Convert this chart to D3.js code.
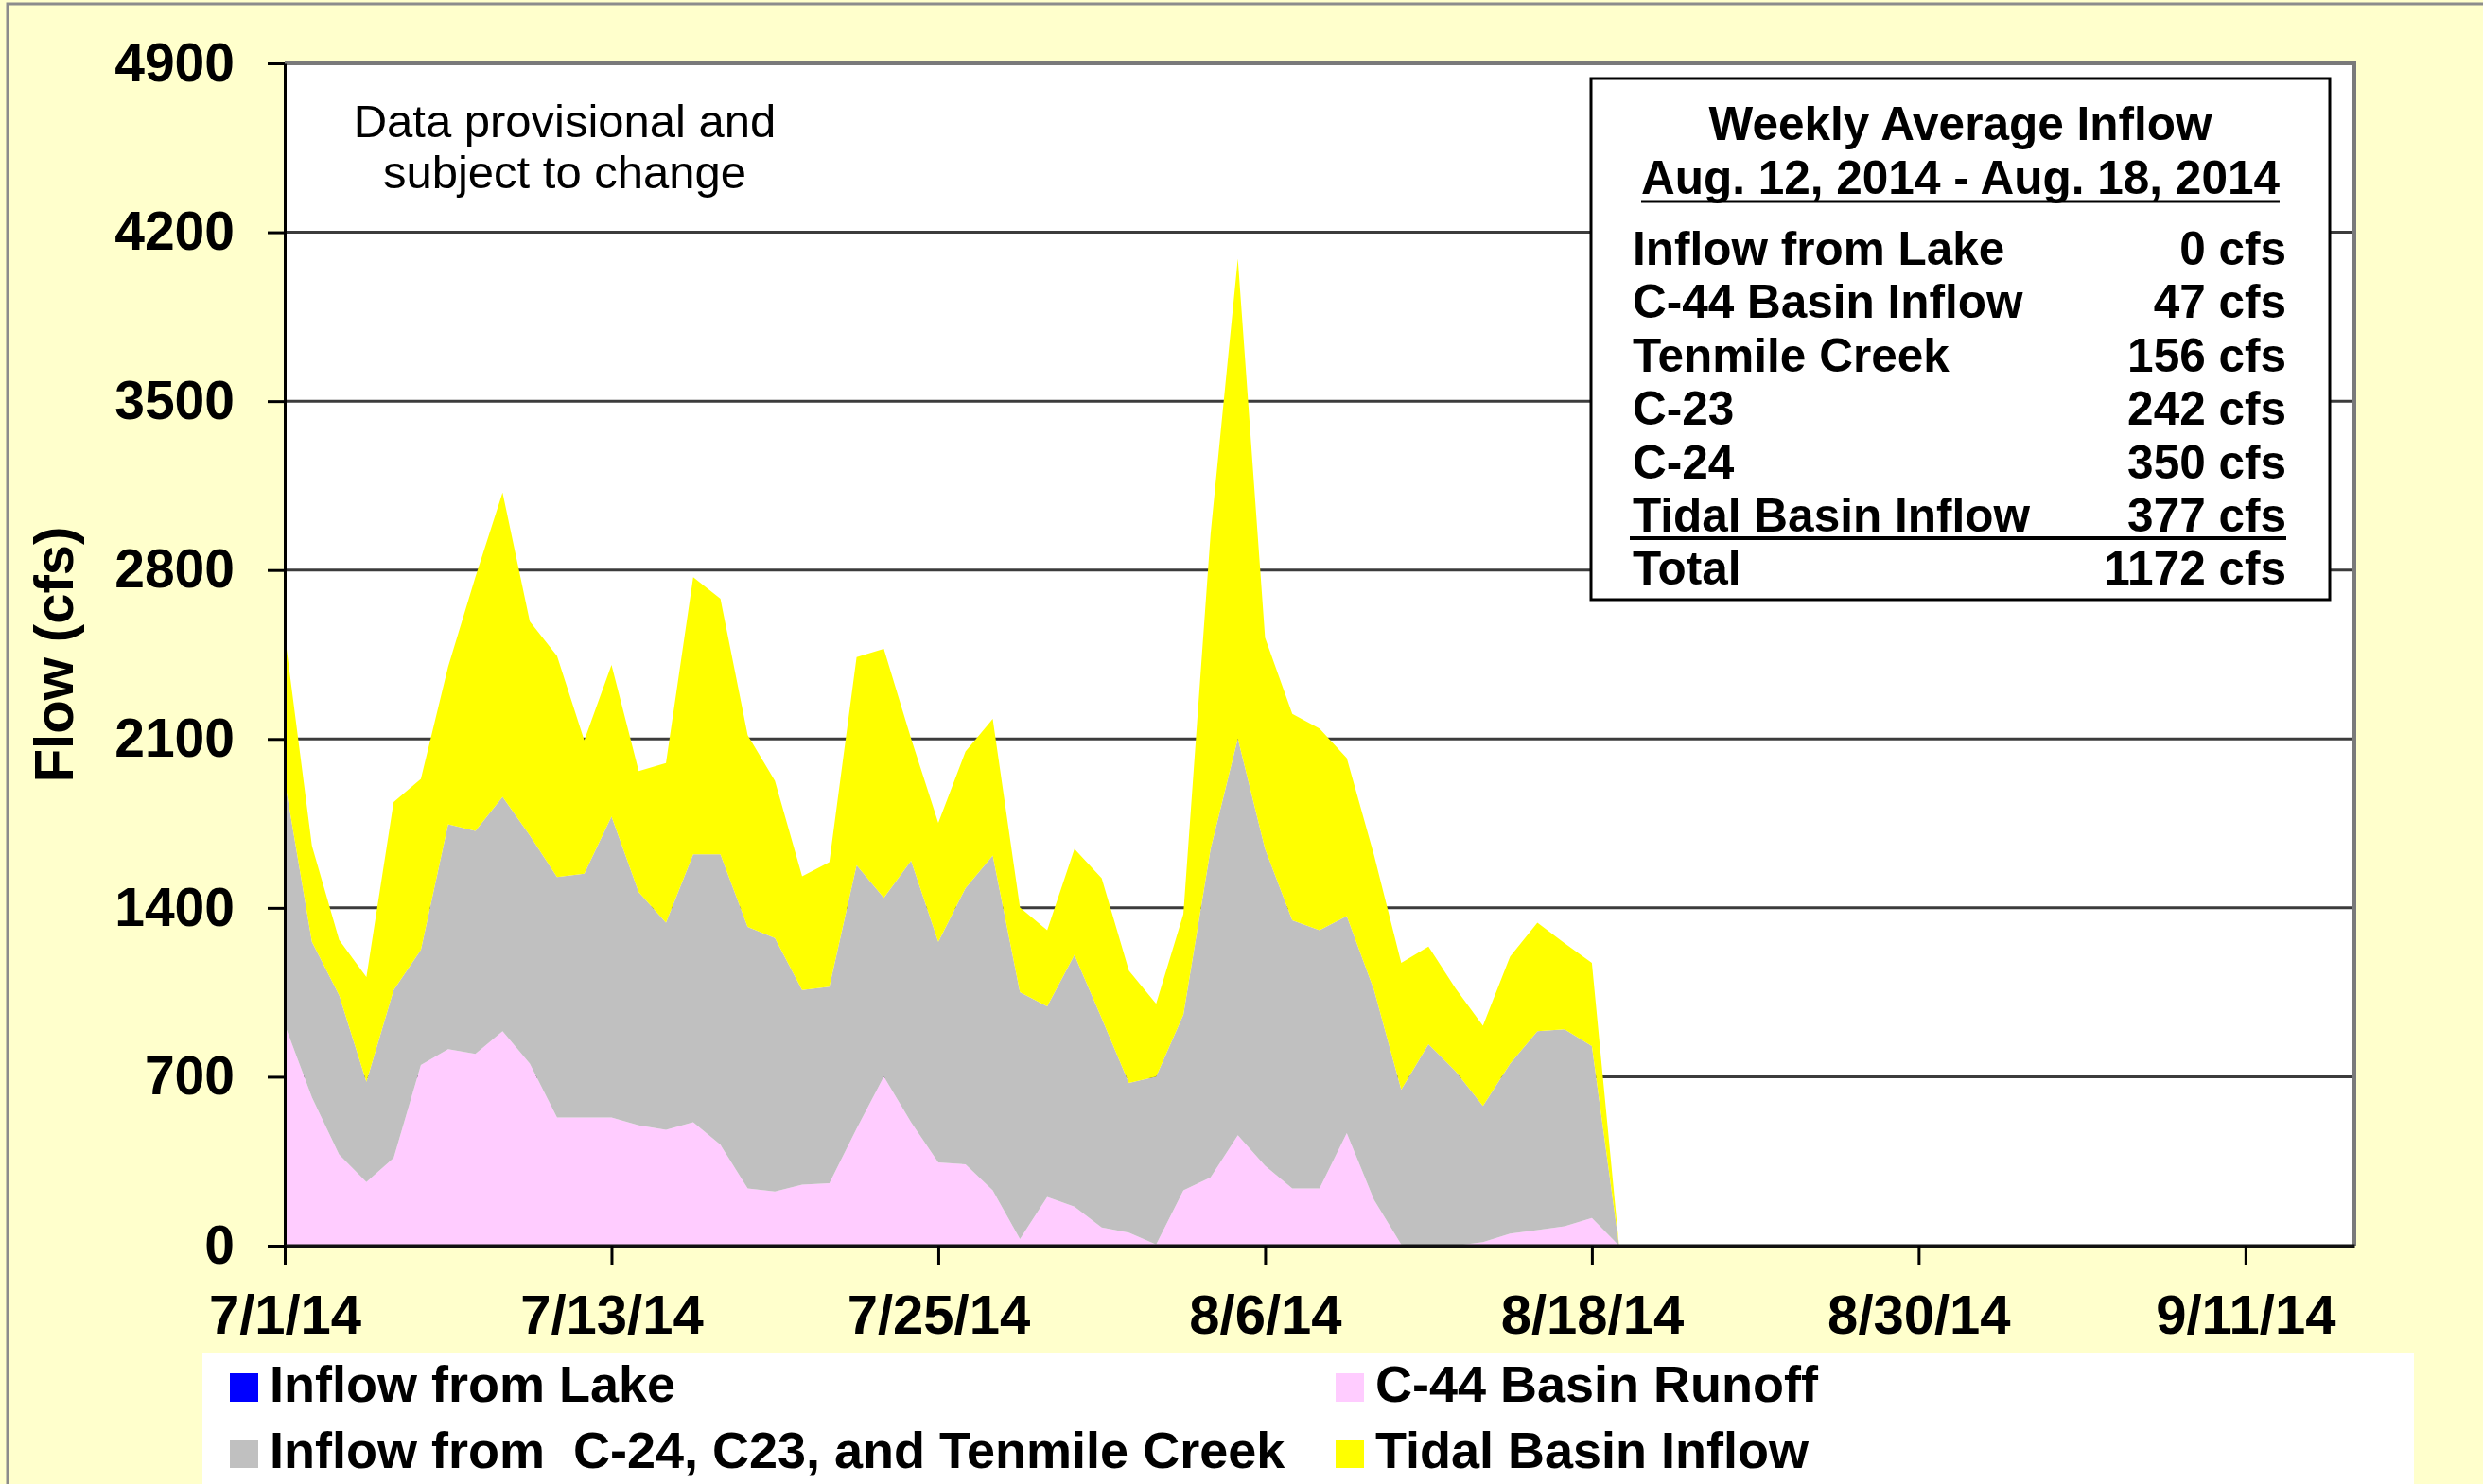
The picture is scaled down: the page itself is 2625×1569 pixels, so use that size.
<!DOCTYPE html>
<html>
	<head>
		<meta http-equiv="Content-Type" content="text/html;charset=utf-8"/>
		<title>Weekly Average Inflow</title>
		<script src="https://d3js.org/d3.v7.min.js"></script>
		<style type="text/css">

			body {
				margin: 0;
				background: #FFFFCC;
			}

			svg text {
				font-family: "Liberation Sans", Arial, sans-serif;
				font-weight: bold;
				fill: #000;
			}

			.grid line {
				stroke: #3c3c3c;
				stroke-width: 3;
			}

		</style>
	</head>
	<body>
		<script type="text/javascript">

			//Daily flows (cfs), 7/1/14 through 8/19/14
			var lake = [0, 0, 0, 0, 0, 0, 0, 0, 0, 0,
				0, 0, 0, 0, 0, 0, 0, 0, 0, 0,
				0, 0, 0, 0, 0, 0, 0, 0, 0, 0,
				0, 0, 0, 0, 0, 0, 0, 0, 0, 0,
				0, 0, 0, 0, 0, 0, 0, 0, 0, 0];
			var c44 = [916, 614, 377, 264, 364, 749, 814, 795, 889, 755,
				531, 531, 531, 499, 480, 512, 418, 237, 224, 253,
				259, 485, 701, 512, 345, 337, 229, 27, 202, 162,
				75, 54, 5, 229, 283, 458, 331, 237, 237, 466,
				190, 5, 0, 0, 15, 50, 65, 80, 115, 0];
			var basin = [1011, 645, 661, 415, 695, 477, 932, 924, 971, 945,
				997, 1011, 1248, 966, 859, 1110, 1204, 1084, 1051, 806,
				814, 1092, 741, 1083, 914, 1145, 1388, 1024, 790, 1043,
				868, 620, 696, 728, 1361, 1644, 1313, 1111, 1070, 900,
				870, 642, 835, 722, 564, 705, 824, 817, 712, 0];
			var tidal = [606, 398, 229, 434, 779, 709, 653, 1051, 1261, 887,
				916, 552, 628, 502, 661, 1148, 1059, 795, 652, 472,
				517, 862, 1032, 507, 493, 566, 566, 350, 315, 439,
				580, 466, 302, 417, 1307, 1989, 876, 856, 836, 655,
				559, 525, 405, 343, 332, 444, 450, 356, 345, 0];

			//Axis ticks
			var xTickLabels = ["7/1/14", "7/13/14", "7/25/14", "8/6/14", "8/18/14", "8/30/14", "9/11/14"];
			var yTicks = [0, 700, 1400, 2100, 2800, 3500, 4200, 4900];

			//Weekly summary box
			var boxTitle = "Weekly Average Inflow";
			var boxDates = "Aug. 12, 2014 - Aug. 18, 2014";
			var boxLabels = ["Inflow from Lake", "C-44 Basin Inflow", "Tenmile Creek", "C-23", "C-24", "Tidal Basin Inflow", "Total"];
			var boxValues = ["0 cfs", "47 cfs", "156 cfs", "242 cfs", "350 cfs", "377 cfs", "1172 cfs"];

			//Legend
			var legendNames = ["Inflow from Lake", "Inflow from  C-24, C23, and Tenmile Creek", "C-44 Basin Runoff", "Tidal Basin Inflow"];
			var legendColors = ["#0000FF", "#C0C0C0", "#FFCCFF", "#FFFF00"];

			var keys = ["lake", "c44", "basin", "tidal"];
			var colors = {lake: "#0000FF", c44: "#FFCCFF", basin: "#C0C0C0", tidal: "#FFFF00"};

			var w = 2625,
				h = 1569,
				plotLeft = 301,
				plotRight = 2489,
				plotTop = 67,
				plotBottom = 1317;

			var parse = d3.timeParse("%m/%d/%y");
			var startDate = parse("7/1/14");
			var days = d3.timeDay.range(startDate, d3.timeDay.offset(startDate, c44.length));

			var rows = days.map(function(d, i) {
				return {date: d, lake: lake[i], c44: c44[i], basin: basin[i], tidal: tidal[i]};
			});

			var x = d3.scaleTime()
				.domain([startDate, parse("9/15/14")])
				.range([plotLeft, plotRight]);

			var y = d3.scaleLinear()
				.domain([0, 4900])
				.range([plotBottom, plotTop]);

			var svg = d3.select("body").append("svg")
				.attr("width", w)
				.attr("height", h)
				.style("display", "block");

			//Outer frame
			svg.append("rect")
				.attr("x", 8)
				.attr("y", 4)
				.attr("width", w)
				.attr("height", h)
				.attr("fill", "#FFFFCC")
				.attr("stroke", "#8c8c8c")
				.attr("stroke-width", 3);

			//Plot area
			svg.append("rect")
				.attr("x", plotLeft)
				.attr("y", plotTop)
				.attr("width", plotRight - plotLeft)
				.attr("height", plotBottom - plotTop)
				.attr("fill", "#fff");

			svg.append("g")
				.attr("class", "grid")
				.selectAll("line")
				.data(yTicks.filter(function(v) { return v > 0; }))
				.enter()
				.append("line")
				.attr("x1", plotLeft)
				.attr("x2", plotRight)
				.attr("y1", function(d) { return y(d); })
				.attr("y2", function(d) { return y(d); });

			//Stacked areas
			var series = d3.stack().keys(keys)(rows);

			var area = d3.area()
				.x(function(d) { return x(d.data.date); })
				.y0(function(d) { return y(d[0]); })
				.y1(function(d) { return y(d[1]); });

			svg.selectAll("path.layer")
				.data(series)
				.enter()
				.append("path")
				.attr("class", "layer")
				.attr("fill", function(d) { return colors[d.key]; })
				.attr("d", area);

			//Plot border
			svg.append("line")
				.attr("x1", plotLeft).attr("x2", plotRight + 2)
				.attr("y1", plotTop).attr("y2", plotTop)
				.attr("stroke", "#7a7a7a").attr("stroke-width", 4);
			svg.append("line")
				.attr("x1", plotRight).attr("x2", plotRight)
				.attr("y1", plotTop).attr("y2", plotBottom)
				.attr("stroke", "#7a7a7a").attr("stroke-width", 4);

			//Axes
			var yAxis = d3.axisLeft(y)
				.tickValues(yTicks)
				.tickFormat(d3.format("d"))
				.tickSize(18)
				.tickSizeOuter(0)
				.tickPadding(35);

			var gy = svg.append("g")
				.attr("transform", "translate(" + plotLeft + ",0)")
				.call(yAxis);
			gy.selectAll("text").attr("font-size", 57).style("font-family", null);
			gy.selectAll("line").attr("stroke", "#000").attr("stroke-width", 3);
			gy.select(".domain").attr("stroke", "#000").attr("stroke-width", 3);

			var xAxis = d3.axisBottom(x)
				.tickValues(xTickLabels.map(parse))
				.tickFormat(d3.timeFormat("%-m/%-d/%y"))
				.tickSize(20)
				.tickSizeOuter(0)
				.tickPadding(32);

			var gx = svg.append("g")
				.attr("transform", "translate(0," + plotBottom + ")")
				.call(xAxis);
			gx.selectAll("text").attr("font-size", 58).style("font-family", null);
			gx.selectAll("line").attr("stroke", "#000").attr("stroke-width", 3);
			gx.select(".domain").attr("stroke", "#111").attr("stroke-width", 4);

			//Y axis title
			svg.append("text")
				.attr("transform", "translate(77," + ((plotTop + plotBottom) / 2) + ") rotate(-90)")
				.attr("text-anchor", "middle")
				.attr("font-size", 58)
				.text("Flow (cfs)");

			//Note
			var note = svg.append("text")
				.attr("text-anchor", "middle")
				.attr("font-size", 49)
				.style("font-weight", "normal");
			note.append("tspan").attr("x", 597).attr("y", 145).text("Data provisional and");
			note.append("tspan").attr("x", 597).attr("y", 199).text("subject to change");

			//Summary box
			var bx = 1682, by = 83, bw = 781, bh = 551;
			var box = svg.append("g");
			box.append("rect")
				.attr("x", bx).attr("y", by)
				.attr("width", bw).attr("height", bh)
				.attr("fill", "#fff")
				.attr("stroke", "#000")
				.attr("stroke-width", 3);

			box.append("text")
				.attr("x", bx + bw / 2).attr("y", 148)
				.attr("text-anchor", "middle")
				.attr("font-size", 49.5)
				.text(boxTitle);

			var dateText = box.append("text")
				.attr("x", bx + bw / 2).attr("y", 205)
				.attr("text-anchor", "middle")
				.attr("font-size", 49.5)
				.text(boxDates);
			var dw = dateText.node().getComputedTextLength();
			box.append("line")
				.attr("x1", bx + bw / 2 - dw / 2).attr("x2", bx + bw / 2 + dw / 2)
				.attr("y1", 213).attr("y2", 213)
				.attr("stroke", "#000").attr("stroke-width", 3);

			box.selectAll("text.lbl")
				.data(boxLabels)
				.enter()
				.append("text")
				.attr("class", "lbl")
				.attr("x", 1726)
				.attr("y", function(d, i) { return 280 + i * 56.4; })
				.attr("font-size", 49.5)
				.text(function(d) { return d; });

			box.selectAll("text.val")
				.data(boxValues)
				.enter()
				.append("text")
				.attr("class", "val")
				.attr("x", 2417)
				.attr("y", function(d, i) { return 280 + i * 56.4; })
				.attr("text-anchor", "end")
				.attr("font-size", 49.5)
				.text(function(d) { return d; });

			box.append("line")
				.attr("x1", 1723).attr("x2", 2417)
				.attr("y1", 569).attr("y2", 569)
				.attr("stroke", "#000").attr("stroke-width", 4);

			//Legend
			var legend = svg.append("g");
			legend.append("rect")
				.attr("x", 214).attr("y", 1430)
				.attr("width", 2338).attr("height", 200)
				.attr("fill", "#fff");

			var items = legend.selectAll("g.item")
				.data(legendNames)
				.enter()
				.append("g")
				.attr("class", "item")
				.attr("transform", function(d, i) {
					var lx = i < 2 ? 243 : 1412;
					var ly = i % 2 === 0 ? 1452 : 1522;
					return "translate(" + lx + "," + ly + ")";
				});

			items.append("rect")
				.attr("width", 30)
				.attr("height", 30)
				.attr("fill", function(d, i) { return legendColors[i]; });

			items.append("text")
				.attr("x", 42)
				.attr("y", 30)
				.attr("font-size", 54)
				.style("white-space", "pre")
				.text(function(d) { return d; });

		</script>
	</body>
</html>
